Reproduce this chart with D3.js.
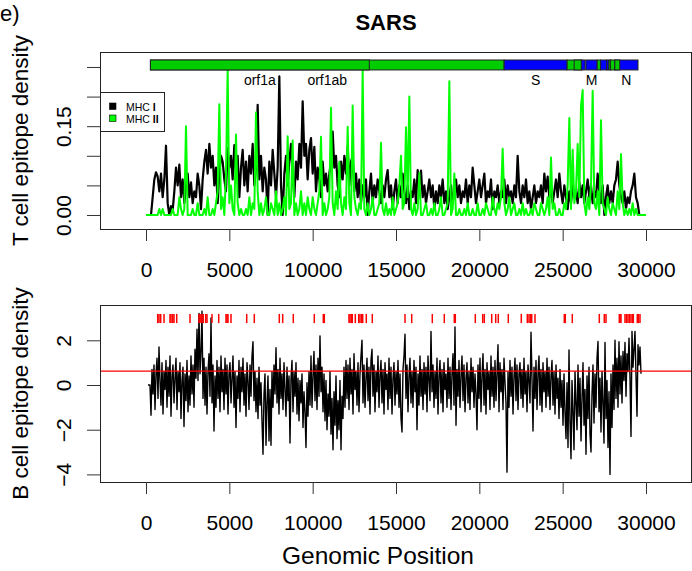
<!DOCTYPE html>
<html>
<head>
<meta charset="utf-8">
<script src="https://cdn.jsdelivr.net/npm/d3@7"></script>
<style>
body { margin: 0; background: #fff; }
svg { display: block; font-family: "Liberation Sans", Arial, Helvetica, sans-serif; }
</style>
</head>
<body>
<div id="chart"></div>
<script>
// T cell epitope density, one value per 100 nt starting at position 0
const tStep = 100;
const mhc1 = [
  0, 0, 0, 0, 0.03, 0.06, 0.072, 0.065, 0.04, 0.07,
  0.03, 0.06, 0.117, 0.02, 0, 0.015, 0.008, 0.04, 0.08, 0.05,
  0.085, 0.03, 0.06, 0.02, 0.05, 0.07, 0.03, 0.055, 0.02, 0.04,
  0.03, 0.07, 0.05, 0.01, 0.06, 0.09, 0.11, 0.07, 0.12, 0.08,
  0.1, 0.05, 0.08, 0.02, 0.07, 0.1, 0.09, 0.06, 0.04, 0.113,
  0.08, 0.1, 0.06, 0.118, 0.07, 0.1, 0.03, 0.08, 0.11, 0.05,
  0.09, 0.04, 0.1, 0.07, 0.12, 0.05, 0.08, 0.186, 0.06, 0.1,
  0.04, 0.08, 0.06, 0, 0.09, 0.05, 0.11, 0.07, 0.03, 0.08,
  0.234, 0.05, 0, 0.07, 0.1, 0.05, 0.09, 0.12, 0.07, 0.03,
  0.09, 0.06, 0.12, 0.08, 0.192, 0.1, 0.12, 0.06, 0.11, 0.13,
  0.07, 0.115, 0.04, 0.08, 0.06, 0.03, 0.09, 0.05, 0.07, 0.04,
  0.07, 0.09, 0.141, 0.08, 0.1, 0.05, 0.03, 0.09, 0.06, 0.1,
  0.07, 0.116, 0.05, 0.09, 0.1, 0.04, 0.07, 0.03, 0.06, 0.02,
  0.05, 0.03, 0.06, 0, 0.04, 0.07, 0.02, 0.05, 0.03, 0.06,
  0.04, 0.02, 0.05, 0.03, 0.06, 0.076, 0.03, 0.05, 0.01, 0.04,
  0.06, 0.02, 0.05, 0.03, 0.07, 0.04, 0.02, 0.05, 0.01, 0.04,
  0.03, 0.06, 0.02, 0.076, 0.05, 0.075, 0.03, 0.05, 0.02, 0.04,
  0.06, 0.03, 0.05, 0.01, 0.04, 0.02, 0.05, 0.03, 0.06, 0.02,
  0.04, 0.01, 0.03, 0.05, 0.02, 0.04, 0.06, 0.03, 0.05, 0.02,
  0.04, 0.03, 0.06, 0.02, 0.05, 0.03, 0.08, 0.05, 0.02, 0.04,
  0.06, 0.03, 0.05, 0.07, 0.02, 0.04, 0.03, 0.06, 0.01, 0.04,
  0.03, 0.05, 0.02, 0.04, 0.03, 0.06, 0.02, 0.05, 0.03, 0.04,
  0.02, 0.05, 0.03, 0.1, 0.04, 0.02, 0.05, 0.03, 0.06, 0.02,
  0.04, 0.01, 0.03, 0.05, 0.02, 0.04, 0.03, 0.05, 0.02, 0.07,
  0.04, 0.065, 0.03, 0.05, 0.02, 0.04, 0.06, 0.03, 0.07, 0.04,
  0.02, 0.05, 0.03, 0.01, 0.04, 0.02, 0.05, 0.03, 0.04, 0.02,
  0.055, 0.03, 0.05, 0.02, 0.04, 0.06, 0.03, 0.05, 0.02, 0.04,
  0.03, 0.07, 0.04, 0.02, 0.05, 0, 0.03, 0.05, 0.02, 0.04,
  0.02, 0.05, 0.06, 0.09, 0.05, 0.03, 0.02, 0.04, 0.01, 0.03,
  0.02, 0.04, 0.05, 0.07, 0.03, 0.02, 0, 0, 0, 0, 0
];
const mhc2 = [
  0, 0, 0, 0, 0, 0, 0, 0, 0.01, 0,
  0.01, 0, 0, 0, 0, 0, 0.01, 0, 0, 0,
  0.03, 0.01, 0, 0.01, 0.15, 0, 0, 0, 0.01, 0,
  0, 0.02, 0, 0, 0, 0.01, 0, 0.03, 0, 0,
  0.01, 0, 0.02, 0.04, 0.187, 0.01, 0.03, 0, 0.07, 0.245,
  0.02, 0.05, 0.01, 0, 0.136, 0.02, 0, 0.01, 0, 0,
  0.01, 0, 0.03, 0, 0.02, 0.01, 0.173, 0.04, 0, 0.02,
  0, 0.01, 0.03, 0, 0, 0.02, 0.01, 0, 0.04, 0,
  0.02, 0, 0.01, 0.03, 0, 0.133, 0.01, 0.02, 0.126, 0,
  0.02, 0, 0.01, 0.04, 0, 0.02, 0, 0.03, 0.01, 0,
  0.03, 0.01, 0, 0.02, 0.04, 0.132, 0, 0.02, 0, 0.01,
  0.03, 0.181, 0.02, 0, 0.04, 0.01, 0.09, 0.02, 0, 0.03,
  0.01, 0.149, 0.02, 0, 0.185, 0.03, 0.01, 0, 0.02, 0.01,
  0.245, 0.01, 0, 0.02, 0, 0.01, 0.03, 0, 0, 0.01,
  0.02, 0.122, 0.01, 0, 0.02, 0, 0.01, 0, 0.03, 0,
  0.01, 0.02, 0.05, 0.1, 0.01, 0.02, 0.148, 0.03, 0.2, 0.01,
  0, 0.02, 0, 0.01, 0.071, 0, 0, 0.01, 0.02, 0,
  0, 0.01, 0, 0.02, 0, 0, 0.01, 0.03, 0, 0,
  0.01, 0.02, 0.226, 0, 0.01, 0.07, 0, 0, 0.01, 0,
  0, 0.01, 0, 0.02, 0, 0, 0.01, 0, 0, 0.02,
  0, 0, 0.01, 0, 0.02, 0.01, 0, 0, 0.03, 0.01,
  0, 0.02, 0.01, 0.03, 0.112, 0.02, 0, 0.01, 0.03, 0,
  0.01, 0.02, 0, 0, 0.01, 0, 0.02, 0, 0.01, 0,
  0, 0.01, 0, 0.02, 0.01, 0, 0, 0.02, 0.01, 0,
  0.01, 0.03, 0, 0.097, 0.01, 0.02, 0, 0, 0.01, 0,
  0, 0.02, 0.01, 0.05, 0.164, 0.01, 0.11, 0.02, 0.04, 0.12,
  0.03, 0.184, 0.211, 0.02, 0, 0.03, 0.01, 0.05, 0.21, 0.02,
  0.01, 0.04, 0, 0.16, 0.02, 0.01, 0, 0.03, 0.01, 0,
  0.02, 0.01, 0, 0.04, 0.01, 0.103, 0.02, 0, 0.01, 0,
  0.01, 0, 0.02, 0, 0.01, 0, 0, 0, 0, 0, 0
];

// B cell epitope density, one value per 60 nt starting at position 120
const bStart = 120;
const bStep = 60;
const bcell = [
  0, 0, 0, -1.35, 0.7, -0.4, 0.9, -1.1, 0.5, 1.2, -0.6, 1.7, 0.2, -0.9, 1.0, -1.3, 0.6, -0.2, 1.1, -1.0, 0.8, -0.5, 1.3, -1.4, 0.4,
  0.9, -0.8, 0.3, 1.2, -1.1, 0.6, -0.3, 1.0, -1.5, 0.2, 0.8, -1.86, 0.5, -0.7, 1.1, -1.2, 0.4, -0.9, 1.3, -0.4, 0.9, -1.0, 1.6, 0.3, 2.5,
  0.2, 3.2, 0.5, 1.5, 3.3, -0.6, 1.2, -0.9, 0.8, -1.3, 0.6, 1.4, -0.5, 3.0, -0.8, 0.9, -2.06, 0.4, -1.0, 1.1, -0.6, 0.8, -1.2, 1.3, -0.3,
  0.7, -1.1, 1.2, -0.4, 0.9, -1.3, 0.5, 1.0, -0.8, 0.3, 1.3, -1.0, 0.6, -1.9, 0.4, -0.6, 1.1, -1.2, 0.8, -0.3, 1.2, -0.9, 0.5, -1.4, 1.0,
  0.2, -1.1, 0.9, -0.5, 1.3, 1.94, -0.7, 0.6, -1.2, 0.3, -1.5, 0.8, -0.9, 0.1, -1.6, -3.1, -0.4, 0.5, -2.7, -0.8, 0.4, -2.5, -0.2, -2.7, 0.6,
  -1.0, 0.9, -0.4, 1.67, -0.8, 0.7, -1.3, 1.2, -0.6, 0.5, -1.1, 1.0, -0.2, -1.4, 0.8, -0.7, 0.4, -2.6, 0.3, 1.1, -1.2, 0.6, -0.5, 1.0, -1.3,
  0.3, -1.6, 0.2, -0.8, 0.5, -1.9, -0.3, -1.2, -2.8, 0.1, -1.4, 0.6, -0.9, 1.3, -1.0, 0.4, 1.5, -0.7, 0.9, -1.1, 1.2, -0.5, 2.2, -0.3, 0.8,
  -1.2, 0.5, -1.6, 0.2, -2.0, -0.4, -1.4, 0.6, -2.2, -0.6, -2.9, -0.3, -1.8, 0.4, -2.4, -0.7, -2.0, 0.2, -2.9, -0.5, -1.5, 0.8, -1.0, 1.1, -0.6,
  0.9, -1.1, 1.2, -0.4, 0.7, -1.3, 1.4, -0.2, 0.6, -0.9, 1.0, -1.2, 0.5, 1.3, 2.0, -0.8, 0.9, -1.0, 0.3, 1.2, -0.7, 0.8, -1.3, 1.1, 1.6,
  -0.5, 0.9, -1.2, 0.6, -0.3, 1.3, -1.0, 0.4, 1.1, -0.8, 0.7, -1.3, 1.0, -0.2, 0.5, -1.1, 1.2, -0.6, 0.8, -1.3, 0.3, 1.0, -0.9, 0.6, -0.4,
  1.1, -1.0, 0.5, -1.5, -2.1, 0.7, 1.3, 2.27, -0.6, 0.9, -1.2, 0.4, 1.2, -0.8, 0.6, -1.0, 1.1, -0.3, 0.8, -2.0, 0.5, -0.9, 1.3, -0.5, 0.7,
  -1.1, 1.0, -0.4, 0.8, -1.2, 1.3, 0.2, -0.7, 2.4, -0.3, 0.9, -1.0, 0.6, -0.6, 1.2, -1.3, 0.4, 1.1, -0.8, 0.7, -1.2, 1.0, -0.2, 0.5, -1.0,
  1.2, -0.6, 0.8, -1.1, 0.5, 1.4, -0.9, 2.6, -1.8, 0.7, -0.5, 1.1, -1.0, 0.4, 1.3, -0.7, 0.9, -1.2, 0.3, 1.0, -0.8, 0.6, -1.1, 1.2, -0.3,
  0.8, -1.0, 0.5, -0.4, -2.0, 0.9, -0.6, 1.2, -1.2, 0.4, 1.4, -0.9, 0.7, -1.3, 1.0, -0.2, 0.6, -1.1, 1.3, -0.5, 0.8, -1.0, 1.1, -0.7, 0.5,
  1.8, -1.2, 1.0, -0.3, 0.7, -1.1, 1.2, 0.1, -0.8, -3.9, 0.6, -1.0, 1.1, -0.5, 0.8, -1.3, 0.4, 1.2, -0.7, 0.9, -1.1, 0.5, 1.0, -0.6, 0.7,
  -1.0, 1.2, -0.4, 0.6, -1.2, 0.9, 0.2, -0.8, 2.36, 0.3, -2.06, 0.8, -0.6, 1.1, -1.1, 0.5, 1.3, -0.9, 0.7, -1.2, 1.0, -0.3, 0.6, -1.0, 1.2,
  -0.5, 0.8, -1.1, 0.4, 1.1, -0.9, 0.6, -1.3, 0.9, -0.6, 0.3, -1.5, 0.7, -1.0, 0.2, -1.8, 0.5, -1.2, -2.4, 0.1, -2.8, 1.57, -1.6, -3.3, 0.2,
  -1.2, -2.9, 0.6, -0.8, -2.0, 0.9, -1.4, 0.3, -2.5, -0.6, 1.0, -1.8, -0.2, -3.1, 0.4, -1.5, 0.8, -2.2, -3.0, -0.4, 0.9, -1.7, 0.5, -1.0, 1.2,
  1.95, -1.2, 0.3, -2.1, 0.6, -0.8, -2.6, 1.9, -1.5, 0.2, -2.8, -0.3, -4.0, 0.5, -1.9, 0.9, -1.1, 2.0, -0.6, 1.2, -1.0, 1.94, -0.4, 1.3, -0.8,
  1.5, 0.2, 1.9, -0.5, 1.4, 0.6, 2.1, 0.3, -2.3, 2.4, 0.8, 1.6, 2.4, 0.4, -1.4, 1.8, 0.9, 1.7, 0.5
];
const bThreshold = 0.62;

// predicted B cell epitope sites (genomic position)
const epitopeSites = [
  702, 780, 882, 1080, 1440, 1500, 1602, 1680, 1842, 2640, 3180, 3240, 3300, 3360, 3438,
  3582, 3660, 3960, 4362, 4800, 4860, 4920, 5100, 6042, 6498, 7998, 8202, 8838, 10098,
  10638, 10698, 12180, 12240, 12318, 12378, 12558, 12762, 12840, 12942, 13002, 13218,
  13578, 15540, 15942, 17178, 17898, 18498, 18558, 19758, 20202, 20298, 20742, 20982,
  21138, 21738, 22518, 22878, 22980, 23070, 23142, 23340, 25098, 25158, 25578, 27198,
  27498, 27600, 28398, 28440, 28500, 28740, 28830, 28920, 29010, 29100, 29190, 29238,
  29478, 29550, 29640
];

// genome map
const geneNames  = ["orf1ab", "orf1a", "S", "ORF3a", "ORF3b", "E", "M", "ORF6", "ORF7a", "ORF7b", "ORF8a", "ORF8b", "N", "ORF9b"];
const geneStarts = [265, 265, 21492, 25268, 25689, 26117, 26398, 27074, 27273, 27638, 27779, 27864, 28120, 28130];
const geneEnds   = [21485, 13398, 25259, 26092, 26153, 26347, 27063, 27265, 27641, 27772, 27898, 28118, 29520, 28426];
const geneColors = ["#00cc00", "#00cc00", "#0000ff", "#00cc00", "#00cc00", "#0000ff", "#0000ff", "#00cc00", "#0000ff", "#0000ff", "#00cc00", "#00cc00", "#0000ff", "#00cc00"];
const labelledGenes = ["orf1a", "orf1ab", "S", "M", "N"];

const xTicks = [0, 5000, 10000, 15000, 20000, 25000, 30000];
const tTicks = [0, 0.05, 0.10, 0.15, 0.20, 0.25];
const tTickLabels = [0, 0.15];
const bTicks = [-4, -2, 0, 2];

const width = 692, height = 571;
const left = 100, right = 691;

const svg = d3.select("#chart")
              .append("svg")
              .attr("width", width)
              .attr("height", height);

const x = d3.scaleLinear().domain([-2760, 32700]).range([left, right]);

// ---------- top panel ----------
const tTop = 52, tBottom = 229;
const yT = d3.scaleLinear().domain([-0.02365, 0.2753]).range([tBottom, tTop]);

svg.append("text")
   .attr("x", 0).attr("y", 21)
   .attr("font-size", 22)
   .text("e)");

svg.append("text")
   .attr("x", 386).attr("y", 30)
   .attr("text-anchor", "middle")
   .attr("font-size", 22)
   .attr("font-weight", "bold")
   .text("SARS");

const line1 = d3.line()
                .x(function(d, i) { return x(i * tStep); })
                .y(function(d) { return yT(d); });

svg.append("path")
   .datum(mhc1)
   .attr("d", line1)
   .attr("fill", "none")
   .attr("stroke", "#000")
   .attr("stroke-width", 2.2)
   .attr("stroke-linejoin", "round");

svg.append("path")
   .datum(mhc2)
   .attr("d", line1)
   .attr("fill", "none")
   .attr("stroke", "#00ff00")
   .attr("stroke-width", 2)
   .attr("stroke-linejoin", "round");

// genome bar
svg.selectAll(".gene")
   .data(geneNames)
   .enter()
   .append("rect")
   .attr("class", "gene")
   .attr("x", function(d, i) { return x(geneStarts[i]); })
   .attr("y", yT(0.2618))
   .attr("width", function(d, i) { return x(geneEnds[i]) - x(geneStarts[i]); })
   .attr("height", yT(0.245) - yT(0.2618))
   .attr("fill", function(d, i) { return geneColors[i]; })
   .attr("stroke", "#222")
   .attr("stroke-width", 1);

svg.selectAll(".gene-label")
   .data(labelledGenes)
   .enter()
   .append("text")
   .attr("class", "gene-label")
   .attr("x", function(d) {
       const i = geneNames.indexOf(d);
       return x((geneStarts[i] + geneEnds[i]) / 2);
   })
   .attr("y", yT(0.2196))
   .attr("text-anchor", "middle")
   .attr("font-size", 14)
   .text(function(d) { return d; });

svg.append("rect")
   .attr("x", left + 0.5).attr("y", tTop + 0.5)
   .attr("width", right - left).attr("height", tBottom - tTop)
   .attr("fill", "none")
   .attr("stroke", "#222");

const xAxisT = svg.append("g")
   .attr("transform", "translate(0," + tBottom + ")")
   .call(d3.axisBottom(x).tickValues(xTicks).tickSize(12).tickPadding(21).tickFormat(d3.format("d")));

const yAxisT = svg.append("g")
   .attr("transform", "translate(" + left + ",0)")
   .call(d3.axisLeft(yT).tickValues(tTicks).tickSize(13)
           .tickFormat(function(d) { return tTickLabels.indexOf(d) >= 0 ? d3.format(".2f")(d) : ""; }));

// legend
const legend = svg.append("g").attr("class", "legend");
legend.append("rect")
      .attr("x", 100.5).attr("y", 92.5)
      .attr("width", 64).attr("height", 39)
      .attr("fill", "#fff").attr("stroke", "#222");
const legendItems = legend.selectAll(".legend-item")
      .data([["MHC ", "I", "#000"], ["MHC ", "II", "#00ff00"]])
      .enter()
      .append("g")
      .attr("transform", function(d, i) { return "translate(0," + (i * 12) + ")"; });
legendItems.append("rect")
      .attr("x", 109.5).attr("y", 103)
      .attr("width", 6.5).attr("height", 6.5)
      .attr("fill", function(d) { return d[2]; })
      .attr("stroke", "#000").attr("stroke-width", 0.6);
const legendText = legendItems.append("text")
      .attr("x", 126).attr("y", 110.5)
      .attr("font-size", 10.5);
legendText.append("tspan").text(function(d) { return d[0]; });
legendText.append("tspan").attr("font-weight", "bold").text(function(d) { return d[1]; });

svg.append("text")
   .attr("transform", "translate(28," + ((tTop + tBottom) / 2) + ") rotate(-90)")
   .attr("text-anchor", "middle")
   .attr("font-size", 22.5)
   .text("T cell epitope density");

// ---------- bottom panel ----------
const bTop = 305, bBottom = 482;
const yB = d3.scaleLinear().domain([-4.34, 3.58]).range([bBottom, bTop]);

const lineB = d3.line()
                .x(function(d, i) { return x(bStart + i * bStep); })
                .y(function(d) { return yB(d); });

svg.append("path")
   .datum(bcell)
   .attr("d", lineB)
   .attr("fill", "none")
   .attr("stroke", "#000")
   .attr("stroke-width", 1.4)
   .attr("stroke-linejoin", "round");

svg.append("line")
   .attr("x1", left).attr("x2", right)
   .attr("y1", yB(bThreshold)).attr("y2", yB(bThreshold))
   .attr("stroke", "#ff0000")
   .attr("stroke-width", 1.2);

svg.selectAll(".site")
   .data(epitopeSites)
   .enter()
   .append("line")
   .attr("class", "site")
   .attr("x1", function(d) { return x(d); })
   .attr("x2", function(d) { return x(d); })
   .attr("y1", yB(2.77))
   .attr("y2", yB(3.18))
   .attr("stroke", "#ff0000")
   .attr("stroke-width", 1.5);

svg.append("rect")
   .attr("x", left + 0.5).attr("y", bTop + 0.5)
   .attr("width", right - left).attr("height", bBottom - bTop)
   .attr("fill", "none")
   .attr("stroke", "#222");

const xAxisB = svg.append("g")
   .attr("transform", "translate(0," + bBottom + ")")
   .call(d3.axisBottom(x).tickValues(xTicks).tickSize(12).tickPadding(21).tickFormat(d3.format("d")));

const yAxisB = svg.append("g")
   .attr("transform", "translate(" + left + ",0)")
   .call(d3.axisLeft(yB).tickValues(bTicks).tickSize(13)
           .tickFormat(function(d) { return d < 0 ? "\u2212" + Math.abs(d) : String(d); }));

svg.append("text")
   .attr("transform", "translate(28," + ((bTop + bBottom) / 2) + ") rotate(-90)")
   .attr("text-anchor", "middle")
   .attr("font-size", 22.5)
   .text("B cell epitope density");

svg.append("text")
   .attr("x", 378).attr("y", 564)
   .attr("text-anchor", "middle")
   .attr("font-size", 24.5)
   .text("Genomic Position");

// R-like axis styling
[xAxisT, xAxisB, yAxisT, yAxisB].forEach(function(g) {
    g.select(".domain").remove();
    g.selectAll(".tick line").attr("stroke", "#333");
    g.selectAll("text")
     .attr("font-family", "Liberation Sans, Arial, sans-serif")
     .attr("font-size", 21)
     .attr("fill", "#000");
});
[yAxisT, yAxisB].forEach(function(g) {
    g.selectAll(".tick text")
     .attr("transform", "rotate(-90)")
     .attr("x", 0)
     .attr("y", -29)
     .attr("dy", 0)
     .attr("text-anchor", "middle");
});
</script>
</body>
</html>
